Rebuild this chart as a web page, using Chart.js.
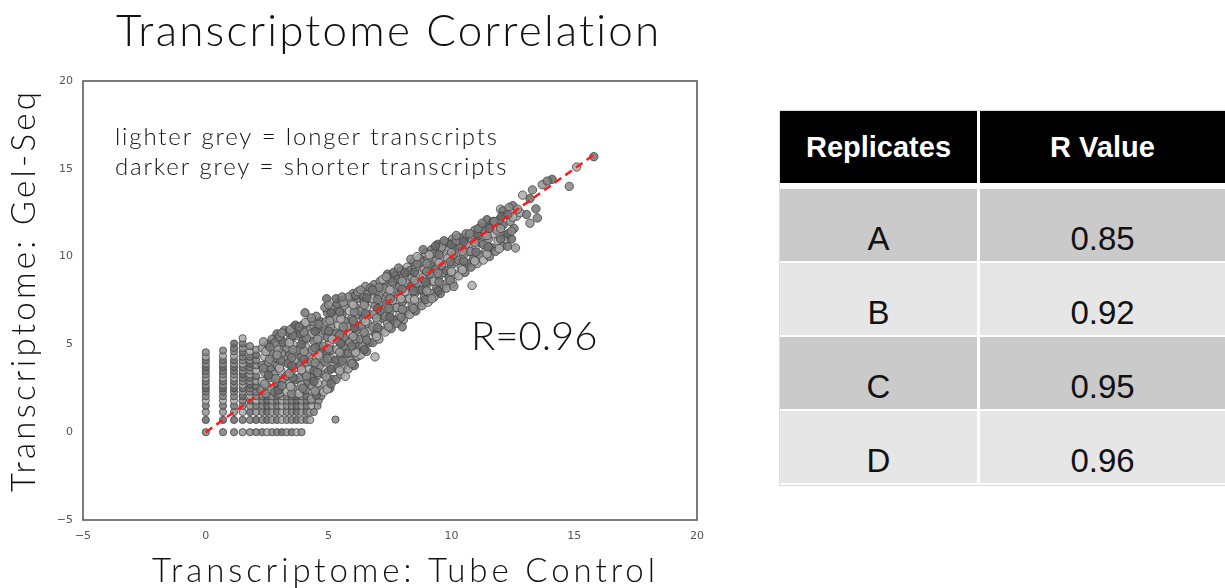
<!DOCTYPE html>
<html>
<head>
<meta charset="utf-8">
<script src="https://cdn.jsdelivr.net/npm/chart.js@4.4.1/dist/chart.umd.min.js"></script>
<style>
  body { margin: 0; background: #fff; width: 1225px; height: 588px; overflow: hidden; position: relative; }
  #plot { position: absolute; left: 0; top: 0; }
  table.rv { position: absolute; left: 780px; top: 111px; width: 445px; border-collapse: separate; border-spacing: 0;
             font-family: "Liberation Sans", Arial, sans-serif; text-align: center;
             outline: 1px solid #dcdcdc; }
  table.rv th { background: #000; color: #fff; font-weight: bold; font-size: 29px; height: 72px; padding: 0;
                border-bottom: 6px solid #fff; }
  table.rv td { font-size: 33px; color: #111; height: 41px; padding: 31px 0 0 0; vertical-align: top;
                border-bottom: 2px solid #fff; }
  table.rv th:first-child, table.rv td:first-child { width: 197px; border-right: 3px solid #fff; }
  table.rv tr.dk td { background: #cacaca; }
  table.rv tr.lt td { background: #e6e6e6; }
</style>
</head>
<body>
<canvas id="plot" width="770" height="588"></canvas>

<table class="rv" id="rvTable"></table>

<script>
// replicate table
const replicates = ['A', 'B', 'C', 'D'];
const rValues = ['0.85', '0.92', '0.95', '0.96'];

// axis ticks
const xTicks = [-5, 0, 5, 10, 15, 20];
const yTicks = [-5, 0, 5, 10, 15, 20];

// low-count genes sit on a grid of discrete values [tube control, gel-seq]
const lowCountPoints = [
  [0,0],[0,0.7],[0,1.15],[0,1.5],[0,1.8],[0,2.05],[0,2.3],[0,2.5],[0,2.7],[0,2.9],[0,3.1],[0,3.3],[0,3.5],[0,3.7],[0,3.9],[0,4.1],[0,4.3],[0,4.55],
  [0.7,0],[0.7,0.7],[0.7,1.15],[0.7,1.5],[0.7,1.8],[0.7,2.05],[0.7,2.3],[0.7,2.5],[0.7,2.7],[0.7,2.9],[0.7,3.1],[0.7,3.3],[0.7,3.5],[0.7,3.7],[0.7,3.9],[0.7,4.1],[0.7,4.35],[0.7,4.65],
  [1.15,0],[1.15,0.7],[1.15,1.15],[1.15,1.5],[1.15,1.8],[1.15,2.05],[1.15,2.3],[1.15,2.5],[1.15,2.7],[1.15,2.9],[1.15,3.1],[1.15,3.3],[1.15,3.5],[1.15,3.7],[1.15,3.9],[1.15,4.1],[1.15,4.35],[1.15,4.6],[1.15,4.8],[1.15,5.05],
  [1.5,0],[1.5,0.7],[1.5,1.15],[1.5,1.5],[1.5,1.8],[1.5,2.05],[1.5,2.3],[1.5,2.5],[1.5,2.7],[1.5,2.9],[1.5,3.1],[1.5,3.3],[1.5,3.5],[1.5,3.7],[1.5,3.9],[1.5,4.1],[1.5,4.3],[1.5,4.55],[1.5,4.8],[1.5,5.05],[1.5,5.35],
  [1.8,0],[1.8,0.7],[1.8,1.15],[1.8,1.5],[1.8,1.8],[1.8,2.05],[1.8,2.3],[1.8,2.5],[1.8,2.7],[1.8,2.9],[1.8,3.1],[1.8,3.3],[1.8,3.5],[1.8,3.7],[1.8,3.9],[1.8,4.1],[1.8,4.3],[1.8,4.6],[1.8,4.9],
  [2.05,0],[2.05,0.7],[2.05,1.15],[2.05,1.5],[2.05,1.8],[2.05,2.05],[2.05,2.3],[2.05,2.6],[2.05,2.9],[2.05,3.2],[2.05,3.5],[2.05,3.8],[2.05,4.1],[2.05,4.4],[2.05,4.7],
  [2.3,0],[2.5,0],[2.7,0],[2.9,0],[3.1,0],[3.3,0],[3.5,0],[3.7,0],[3.9,0],
  [2.3,0.7],[2.5,0.7],[2.7,0.7],[2.9,0.7],[3.1,0.7],[3.3,0.7],[3.5,0.7],[3.7,0.7],[3.9,0.7],[4.1,0.7],[4.25,0.7],[5.28,0.72],
  [2.3,1.15],[2.5,1.15],[2.7,1.15],[2.9,1.15],[3.1,1.15],[3.3,1.15],[3.5,1.15],[3.7,1.15],[3.9,1.15],[4.1,1.15],[4.25,1.15],[4.4,1.15],
  [2.3,1.5],[2.5,1.5],[2.7,1.5],[2.9,1.5],[3.1,1.5],[3.3,1.5],[3.5,1.5],[3.7,1.5],[3.9,1.5],[4.1,1.5],[4.3,1.5],[4.55,1.5],
  [2.3,1.8],[2.5,1.8],[2.7,1.8],[2.9,1.8],[3.1,1.8],[3.3,1.8],[3.5,1.8],[3.7,1.8],[3.9,1.8],[4.1,1.8],[4.3,1.8],[4.6,1.8],
  [2.3,2.05],[2.5,2.05],[2.7,2.05],[2.9,2.05],[3.1,2.05],[3.3,2.05],[3.5,2.05],[3.7,2.05],[3.9,2.05],[4.1,2.05],[4.3,2.05],[4.7,2.05]
];

// expressed genes, read strip by strip along the diagonal
const cloudPoints = [
  [2.25,2.4],[2.5,2.6],[2.3,2.9],[2.6,3.1],[2.4,3.4],[2.65,3.6],[2.3,3.8],[2.55,4.0],[2.4,4.3],[2.65,4.5],[2.3,4.8],[2.55,5.0],[2.7,5.3],[2.45,2.2],[2.7,2.4],
  [2.8,2.3],[3.0,2.5],[2.9,2.8],[3.15,3.0],[2.8,3.3],[3.05,3.5],[2.9,3.8],[3.15,4.0],[2.85,4.2],[3.1,4.5],[2.95,4.7],[3.2,4.9],[2.8,5.1],[3.05,5.3],[2.9,5.6],[3.2,5.8],[3.0,2.2],
  [3.3,2.3],[3.55,2.5],[3.4,2.8],[3.65,3.0],[3.3,3.2],[3.5,3.5],[3.7,3.7],[3.35,3.9],[3.6,4.1],[3.4,4.4],[3.65,4.6],[3.3,4.8],[3.55,5.0],[3.45,5.3],[3.7,5.5],[3.35,5.7],[3.6,6.0],[3.5,2.2],
  [3.8,2.2],[4.05,2.4],[3.9,2.7],[4.15,2.9],[3.8,3.1],[4.0,3.4],[4.2,3.6],[3.85,3.8],[4.1,4.0],[3.9,4.3],[4.15,4.5],[3.8,4.7],[4.05,4.9],[3.95,5.2],[4.2,5.4],[3.85,5.6],[4.1,5.8],[3.95,6.1],[4.2,6.3],[4.04,6.8],
  [4.3,1.9],[4.5,2.1],[4.65,2.4],[4.35,2.6],[4.55,2.8],[4.3,3.1],[4.6,3.3],[4.4,3.5],[4.65,3.8],[4.3,4.0],[4.5,4.2],[4.7,4.5],[4.35,4.7],[4.6,4.9],[4.4,5.2],[4.65,5.4],[4.3,5.6],[4.55,5.9],[4.4,6.1],[4.65,6.3],[4.5,6.6],[4.35,6.3],
  [4.8,2.3],[5.05,2.5],[4.9,2.8],[5.15,3.0],[4.8,3.3],[5.0,3.5],[5.2,3.8],[4.85,4.0],[5.1,4.2],[4.9,4.5],[5.15,4.7],[4.8,4.9],[5.05,5.1],[4.95,5.4],[5.2,5.6],[4.85,5.8],[5.1,6.0],[4.9,6.3],[5.15,6.5],[4.95,6.8],[5.2,7.0],[4.92,7.6],
  [5.3,3.0],[5.5,3.3],[5.68,3.18],[5.35,3.6],[5.6,3.8],[5.3,4.1],[5.5,4.3],[5.7,4.5],[5.35,4.7],[5.6,4.9],[5.4,5.2],[5.65,5.4],[5.3,5.6],[5.55,5.8],[5.4,6.1],[5.7,6.3],[5.3,6.5],[5.55,6.7],[5.4,7.0],[5.65,7.2],[5.5,7.5],[5.35,7.3],
  [5.8,3.6],[6.05,3.8],[5.9,4.1],[6.15,4.3],[6.19,4.35],[5.8,4.5],[6.0,4.7],[6.2,4.9],[5.85,5.1],[6.1,5.3],[5.9,5.6],[6.15,5.8],[5.8,6.0],[6.05,6.2],[5.95,6.5],[6.2,6.7],[5.85,6.9],[6.1,7.1],[5.9,7.4],[6.15,7.6],[6.0,7.9],[5.8,7.7],
  [6.3,4.4],[6.55,4.6],[6.4,4.9],[6.65,5.1],[6.3,5.3],[6.5,5.5],[6.7,5.8],[6.35,6.0],[6.6,6.2],[6.4,6.5],[6.65,6.7],[6.3,6.9],[6.55,7.1],[6.45,7.4],[6.7,7.6],[6.35,7.8],[6.6,8.0],[6.5,8.3],[6.89,4.29],
  [6.8,5.1],[7.05,5.3],[6.9,5.6],[7.15,5.8],[6.8,6.0],[7.0,6.3],[7.2,6.5],[6.85,6.7],[7.1,6.9],[6.9,7.2],[7.15,7.4],[6.8,7.6],[7.05,7.8],[6.95,8.1],[7.2,8.3],[6.85,8.4],[7.1,8.6],
  [7.3,5.7],[7.55,5.9],[7.4,6.2],[7.65,6.4],[7.3,6.6],[7.5,6.9],[7.7,7.1],[7.35,7.3],[7.6,7.5],[7.4,7.8],[7.65,8.0],[7.3,8.2],[7.55,8.4],[7.45,8.7],[7.7,8.9],[7.4,9.0],
  [7.8,6.2],[8.05,6.4],[7.9,6.7],[8.15,6.9],[7.8,7.1],[8.0,7.4],[8.2,7.6],[7.85,7.8],[8.1,8.0],[7.9,8.3],[8.15,8.5],[7.8,8.7],[8.05,8.9],[7.95,9.2],[8.2,9.4],[8.0,6.0],
  [8.3,6.7],[8.55,6.9],[8.4,7.2],[8.65,7.4],[8.3,7.6],[8.5,7.9],[8.7,8.1],[8.35,8.3],[8.6,8.5],[8.4,8.8],[8.65,9.0],[8.3,9.2],[8.55,9.4],[8.45,9.7],[8.7,9.9],
  [8.8,7.2],[9.05,7.4],[8.9,7.7],[9.15,7.9],[8.8,8.1],[9.0,8.4],[9.2,8.6],[8.85,8.8],[9.1,9.0],[8.9,9.3],[9.15,9.5],[8.8,9.7],[9.05,9.9],[8.95,10.2],[9.2,10.4],
  [9.3,7.7],[9.55,7.9],[9.4,8.2],[9.65,8.4],[9.3,8.6],[9.5,8.9],[9.7,9.1],[9.35,9.3],[9.6,9.5],[9.4,9.8],[9.65,10.0],[9.3,10.2],[9.55,10.4],[9.45,10.7],[9.7,10.8],
  [9.8,8.2],[10.05,8.5],[9.9,8.8],[10.15,9.0],[9.8,9.2],[10.0,9.5],[10.2,9.7],[9.85,9.9],[10.1,10.1],[9.9,10.4],[10.15,10.6],[9.85,10.8],[10.05,11.0],
  [10.3,8.9],[10.55,9.1],[10.4,9.4],[10.65,9.6],[10.3,9.8],[10.5,10.1],[10.7,10.3],[10.35,10.5],[10.6,10.7],[10.45,11.0],[10.7,11.2],[10.3,11.1],[10.84,8.36],
  [10.8,9.4],[11.05,9.6],[10.9,9.9],[11.15,10.1],[10.8,10.3],[11.0,10.6],[11.2,10.8],[10.85,11.0],[11.1,11.2],[10.95,11.5],[11.2,11.7],
  [11.3,9.8],[11.55,10.0],[11.4,10.3],[11.65,10.5],[11.3,10.7],[11.5,11.0],[11.7,11.3],[11.35,11.5],[11.6,11.8],[11.45,12.1],
  [11.8,10.3],[12.05,10.6],[11.9,10.9],[12.15,11.2],[11.85,11.5],[12.1,11.8],[11.95,12.1],[12.2,12.4],[12.0,12.7],[12.28,10.59],[12.2,11.0],
  [12.3,11.3],[12.55,11.6],[12.4,12.0],[12.65,12.3],[12.5,12.9],[12.61,10.49],[12.45,11.0],[12.1,12.6],[12.35,12.8],
  [12.8,12.5],[13.06,12.4],[13.2,11.9],[13.2,13.3],[13.5,12.2],[13.3,13.8],[12.9,13.5],[13.44,12.72],
  [13.7,14.1],[14.1,14.4],[13.9,14.3],[14.8,14.0],[15.1,15.1],[15.8,15.69]
];

// second pass over the same strips: points sitting between the first ones
const cloudFillPoints = [
  [2.4,2.75],[2.55,3.25],[2.35,3.65],[2.6,4.15],[2.45,4.6],[2.6,4.85],[2.35,5.15],
  [2.95,2.4],[3.1,2.65],[2.85,3.05],[3.0,3.65],[3.05,4.1],[2.9,4.4],[3.15,5.1],[3.0,5.45],[3.1,5.65],
  [3.45,2.6],[3.55,3.1],[3.4,3.35],[3.5,3.8],[3.5,4.25],[3.55,4.7],[3.4,5.1],[3.55,5.5],[3.45,5.85],[3.65,6.1],
  [3.95,2.5],[4.1,3.2],[3.9,3.55],[4.0,4.15],[4.0,4.6],[3.9,5.0],[4.1,5.35],[4.0,5.7],[4.05,6.25],[3.8,6.0],
  [4.45,2.35],[4.4,2.9],[4.55,3.4],[4.45,3.95],[4.6,4.4],[4.45,4.8],[4.55,5.3],[4.45,5.75],[4.6,6.15],[4.3,6.5],
  [4.95,2.45],[5.1,2.75],[4.9,3.15],[5.1,3.6],[4.95,4.2],[5.0,4.75],[5.15,5.3],[5.0,5.75],[5.05,6.35],[5.1,6.8],[4.85,7.1],[5.0,7.25],
  [5.45,3.5],[5.55,4.05],[5.45,4.55],[5.5,5.05],[5.45,5.55],[5.6,6.0],[5.5,6.45],[5.45,6.85],[5.6,7.4],[5.3,7.6],[5.55,7.7],
  [5.95,3.9],[6.1,4.55],[5.95,4.9],[6.0,5.45],[6.05,5.95],[6.0,6.35],[6.05,6.85],[6.0,7.25],[6.1,7.8],[6.2,8.0],
  [6.45,4.7],[6.55,5.25],[6.45,5.7],[6.5,6.3],[6.5,6.75],[6.45,7.25],[6.55,7.65],[6.7,8.2],[6.3,8.1],
  [6.95,5.45],[7.0,5.95],[6.95,6.5],[7.0,7.05],[7.0,7.55],[7.05,8.25],[7.2,8.7],[6.8,8.1],
  [7.45,6.0],[7.5,6.55],[7.45,7.05],[7.5,7.6],[7.5,8.1],[7.6,8.55],[7.35,8.85],[7.65,9.1],
  [7.95,6.55],[8.0,7.0],[7.95,7.6],[8.0,8.15],[8.0,8.6],[8.1,9.1],[7.85,9.35],
  [8.45,7.05],[8.5,7.55],[8.45,8.05],[8.5,8.65],[8.5,9.1],[8.6,9.6],[8.35,9.85],[8.6,10.0],
  [8.95,7.55],[9.0,8.05],[8.95,8.55],[9.0,9.15],[9.0,9.6],[9.1,10.1],[8.85,10.4],[9.2,7.6],
  [9.45,8.05],[9.5,8.55],[9.45,9.05],[9.5,9.65],[9.5,10.1],[9.6,10.55],[9.35,10.6],[9.7,10.9],
  [9.95,8.65],[10.0,9.15],[9.95,9.7],[10.0,10.25],[10.0,10.7],[10.2,10.9],[10.1,8.3],
  [10.45,9.25],[10.5,9.75],[10.45,10.3],[10.5,10.85],[10.6,11.3],[10.2,11.2],
  [10.95,9.75],[11.0,10.25],[10.95,10.8],[11.05,11.3],[11.1,11.6],[10.75,11.3],
  [11.45,10.15],[11.5,10.55],[11.45,11.2],[11.55,11.6],[11.25,11.9],[11.7,12.0],
  [11.95,10.45],[12.0,11.0],[12.0,11.6],[12.05,12.3],[11.75,12.0],
  [12.45,11.45],[12.5,12.25],[12.3,12.4],[12.7,12.7]
];

// least-squares fit drawn as the dashed red line
const fitLine = [[0, 0], [15.8, 15.8]];

const titleText = 'Transcriptome Correlation';
const xTitle = 'Transcriptome: Tube Control';
const yTitle = 'Transcriptome: Gel-Seq';
const noteLines = ['lighter grey = longer transcripts', 'darker grey = shorter transcripts'];
const rLabel = 'R=0.96';

// table
var tbl = '<tr><th>Replicates</th><th>R Value</th></tr>';
replicates.forEach(function(r, i) {
  tbl += '<tr class="' + (i % 2 ? 'lt' : 'dk') + '"><td>' + r + '</td><td>' + rValues[i] + '</td></tr>';
});
document.getElementById('rvTable').innerHTML = tbl;

const thinFont = '"Lato", "DejaVu Sans", sans-serif';
const greys = ['rgba(125,125,125,0.85)', 'rgba(105,105,105,0.85)', 'rgba(148,148,148,0.85)', 'rgba(115,115,115,0.85)', 'rgba(172,172,172,0.85)', 'rgba(135,135,135,0.85)'];

function toXY(p) { return {x: p[0], y: p[1]}; }

// stretch a (wide, geometric) label to the width it takes in the original
function spacedText(c, text, x, y, width) {
  c.letterSpacing = '0px';
  var natural = c.measureText(text).width;
  var sp = (width - natural) / (text.length - 1);
  c.letterSpacing = sp.toFixed(2) + 'px';
  c.textAlign = 'left';
  c.fillText(text, x, y);
  c.letterSpacing = '0px';
}

// frame, title, axis titles and notes, placed with the scales
const textPlugin = {
  id: 'texts',
  afterDraw(chart) {
    const c = chart.ctx, xs = chart.scales.x, ys = chart.scales.y, a = chart.chartArea;
    c.save();
    c.strokeStyle = '#5a5a5a';
    c.lineWidth = 1.6;
    c.strokeRect(a.left, a.top, a.right - a.left, a.bottom - a.top);
    c.fillStyle = '#111';
    c.textBaseline = 'alphabetic';

    c.font = '300 44px ' + thinFont;
    spacedText(c, titleText, 116, 46, 544);

    c.font = '300 33px ' + thinFont;
    spacedText(c, xTitle, 152, 582, 503);

    c.save();
    c.translate(35, 492);
    c.rotate(-Math.PI / 2);
    spacedText(c, yTitle, 0, 0, 400);
    c.restore();

    c.font = '300 24px ' + thinFont;
    c.letterSpacing = '0px';
    var sp = (382 - c.measureText(noteLines[0]).width) / (noteLines[0].length - 1);
    c.letterSpacing = sp.toFixed(2) + 'px';
    c.fillText(noteLines[0], xs.getPixelForValue(-3.7), ys.getPixelForValue(16.36));
    c.fillText(noteLines[1], xs.getPixelForValue(-3.7), ys.getPixelForValue(14.66));
    c.letterSpacing = '0px';

    c.font = '300 40px ' + thinFont;
    c.textBaseline = 'middle';
    c.fillText(rLabel, xs.getPixelForValue(10.8), ys.getPixelForValue(5.4));
    c.restore();
  }
};

const pointStyle = {
  borderColor: 'rgba(65,65,65,0.8)',
  borderWidth: 1
};

new Chart(document.getElementById('plot'), {
  type: 'scatter',
  data: {
    datasets: [{
      type: 'line',
      label: 'fit',
      data: fitLine.map(toXY),
      borderColor: '#ff1a1a',
      borderWidth: 2.5,
      borderDash: [8, 5],
      pointRadius: 0,
      order: 0
    }, Object.assign({
      label: 'low counts',
      data: lowCountPoints.map(toXY),
      backgroundColor: function(ctx) { return greys[(ctx.dataIndex * 7) % greys.length]; },
      pointRadius: 3.6,
      order: 3
    }, pointStyle), Object.assign({
      label: 'genes',
      data: cloudPoints.map(toXY),
      backgroundColor: function(ctx) { return greys[(ctx.dataIndex * 5) % greys.length]; },
      pointRadius: 4.2,
      order: 2
    }, pointStyle), Object.assign({
      label: 'genes (fill)',
      data: cloudFillPoints.map(toXY),
      backgroundColor: function(ctx) { return greys[(ctx.dataIndex * 5 + 2) % greys.length]; },
      pointRadius: 4.2,
      order: 1
    }, pointStyle)]
  },
  options: {
    responsive: false,
    animation: false,
    layout: { padding: { top: 81, right: 73, left: 0, bottom: 0 } },
    plugins: { legend: { display: false }, tooltip: { enabled: false } },
    scales: {
      x: {
        type: 'linear', min: -5, max: 20,
        afterBuildTicks: function(s) { s.ticks = xTicks.map(function(v) { return {value: v}; }); },
        afterFit: function(s) { s.height = 68; },
        grid: { display: false, drawTicks: false },
        border: { display: false },
        ticks: { padding: 10, color: '#555', font: { family: 'DejaVu Sans', size: 11 },
                 callback: function(v) { return String(v).replace('-', '\u2212'); } }
      },
      y: {
        type: 'linear', min: -5, max: 20,
        afterBuildTicks: function(s) { s.ticks = yTicks.map(function(v) { return {value: v}; }); },
        afterFit: function(s) { s.width = 83; },
        grid: { display: false, drawTicks: false },
        border: { display: false },
        ticks: { padding: 10, color: '#555', font: { family: 'DejaVu Sans', size: 11 },
                 callback: function(v) { return String(v).replace('-', '\u2212'); } }
      }
    }
  },
  plugins: [textPlugin]
});
</script>
</body>
</html>
